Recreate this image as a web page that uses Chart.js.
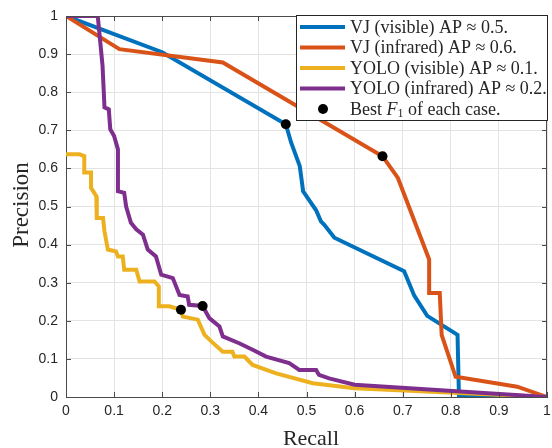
<!DOCTYPE html>
<html>
<head>
<meta charset="utf-8">
<script src="https://cdn.jsdelivr.net/npm/chart.js@4"></script>
<style>
  html, body { margin: 0; padding: 0; background: #fff; }
  #pr { display: block; }
</style>
</head>
<body>
<canvas id="pr" width="552" height="448"></canvas>
<script>
// values
const vjVisRecall = [0, 0.2, 0.457, 0.468, 0.486, 0.493, 0.52, 0.53, 0.537, 0.558, 0.703, 0.724, 0.751, 0.814, 0.817, 1];
const vjVisPrecision = [1, 0.905, 0.716, 0.668, 0.606, 0.54, 0.49, 0.461, 0.452, 0.418, 0.33, 0.266, 0.213, 0.163, 0, 0];

const vjIrRecall = [0, 0.111, 0.326, 0.658, 0.69, 0.755, 0.755, 0.777, 0.781, 0.81, 0.938, 1];
const vjIrPrecision = [1, 0.913, 0.878, 0.632, 0.575, 0.361, 0.273, 0.273, 0.163, 0.053, 0.027, 0];

const yoloVisRecall = [0, 0.028, 0.038, 0.038, 0.052, 0.052, 0.063, 0.064, 0.077, 0.08, 0.087, 0.104, 0.108, 0.118, 0.121, 0.146, 0.153, 0.184, 0.193, 0.193, 0.215, 0.239, 0.243, 0.274, 0.288, 0.302, 0.326, 0.346, 0.35, 0.371, 0.388, 0.437, 0.513, 0.6, 1];
const yoloVisPrecision = [0.637, 0.637, 0.632, 0.589, 0.589, 0.549, 0.527, 0.47, 0.47, 0.435, 0.387, 0.382, 0.369, 0.369, 0.334, 0.334, 0.303, 0.303, 0.29, 0.238, 0.238, 0.229, 0.211, 0.203, 0.163, 0.146, 0.119, 0.119, 0.106, 0.106, 0.084, 0.062, 0.036, 0.023, 0];

const yoloIrRecall = [0, 0.066, 0.076, 0.08, 0.089, 0.092, 0.1, 0.108, 0.108, 0.121, 0.125, 0.135, 0.146, 0.16, 0.17, 0.187, 0.198, 0.222, 0.236, 0.253, 0.256, 0.284, 0.298, 0.319, 0.326, 0.36, 0.388, 0.416, 0.464, 0.485, 0.52, 0.526, 0.547, 0.6, 1];
const yoloIrPrecision = [1, 1, 0.869, 0.76, 0.755, 0.703, 0.685, 0.65, 0.54, 0.536, 0.5, 0.457, 0.44, 0.426, 0.387, 0.369, 0.321, 0.312, 0.268, 0.264, 0.242, 0.239, 0.207, 0.185, 0.159, 0.141, 0.124, 0.106, 0.089, 0.071, 0.071, 0.058, 0.049, 0.032, 0];

// best F1 operating point for each case (VJ vis, VJ ir, YOLO vis, YOLO ir)
const bestF1Recall = [0.457, 0.658, 0.239, 0.284];
const bestF1Precision = [0.716, 0.632, 0.229, 0.239];

const seriesLabels = [
  'VJ (visible) AP \u2248 0.5.',
  'VJ (infrared) AP \u2248 0.6.',
  'YOLO (visible) AP \u2248 0.1.',
  'YOLO (infrared) AP \u2248 0.2.'
];
const tickValues = [0, 0.1, 0.2, 0.3, 0.4, 0.5, 0.6, 0.7, 0.8, 0.9, 1];
const tickLabels = ['0', '0.1', '0.2', '0.3', '0.4', '0.5', '0.6', '0.7', '0.8', '0.9', '1'];

const colors = ['#0072BD', '#D95319', '#EDB120', '#7E2F8E'];
const ink = '#262626';

function toPoints(xs, ys) {
  return xs.map((x, i) => ({ x: x, y: ys[i] }));
}

function curve(label, xs, ys, color, order) {
  return {
    label: label,
    data: toPoints(xs, ys),
    borderColor: color,
    backgroundColor: color,
    borderWidth: 4,
    pointRadius: 0,
    tension: 0,
    fill: false,
    order: order
  };
}

// white background, inward ticks, box, axis titles and the legend
const matlabLook = {
  id: 'matlabLook',
  beforeDraw(chart) {
    const c = chart.ctx;
    c.save();
    c.fillStyle = '#fff';
    c.fillRect(0, 0, chart.width, chart.height);
    c.restore();
  },
  afterDraw(chart) {
    const c = chart.ctx;
    const a = chart.chartArea;
    const xs = chart.scales.x, ys = chart.scales.y;
    c.save();

    // box + inward ticks
    c.strokeStyle = '#4a4a4a';
    c.lineWidth = 1;
    c.beginPath();
    c.moveTo(a.left, a.top + 0.5); c.lineTo(a.right, a.top + 0.5);
    c.moveTo(a.right - 0.5, a.top); c.lineTo(a.right - 0.5, a.bottom);
    tickValues.forEach(v => {
      const px = Math.round(xs.getPixelForValue(v)) + 0.5;
      c.moveTo(px, a.bottom); c.lineTo(px, a.bottom - 5);
      c.moveTo(px, a.top); c.lineTo(px, a.top + 5);
      const py = Math.round(ys.getPixelForValue(v)) + 0.5;
      c.moveTo(a.left, py); c.lineTo(a.left + 5, py);
      c.moveTo(a.right, py); c.lineTo(a.right - 5, py);
    });
    c.stroke();

    // axis titles
    c.fillStyle = ink;
    c.font = '22px "Liberation Serif", "Times New Roman", serif';
    c.textAlign = 'center';
    c.textBaseline = 'alphabetic';
    c.fillText('Recall', 311, 445);
    c.save();
    c.translate(28, 205);
    c.rotate(-Math.PI / 2);
    c.font = '23px "Liberation Serif", "Times New Roman", serif';
    c.fillText('Precision', 0, 0);
    c.restore();

    // legend
    const bx = 296, by = 15, bw = a.right - 296 + 1, bh = 106;
    c.fillStyle = '#fff';
    c.fillRect(bx, by, bw, bh);
    c.strokeStyle = ink;
    c.lineWidth = 1;
    c.strokeRect(bx + 0.5, by + 0.5, bw - 1, bh - 1);

    const rowY = [27, 47.5, 68, 88.5, 109];
    const serif = '"Liberation Serif", "Times New Roman", serif';
    c.textAlign = 'left';
    c.textBaseline = 'middle';
    seriesLabels.forEach((txt, i) => {
      c.strokeStyle = colors[i];
      c.lineWidth = 4;
      c.beginPath();
      c.moveTo(300, rowY[i]); c.lineTo(345, rowY[i]);
      c.stroke();
      c.fillStyle = ink;
      c.font = '18px ' + serif;
      c.fillText(txt, 350, rowY[i] + 1);
    });
    // marker entry
    const y5 = rowY[4];
    c.fillStyle = '#000';
    c.beginPath();
    c.arc(323, y5, 5, 0, Math.PI * 2);
    c.fill();
    c.fillStyle = ink;
    let tx = 350;
    c.font = '18px ' + serif;
    c.fillText('Best ', tx, y5 + 1);
    tx += c.measureText('Best ').width;
    c.font = 'italic 18px ' + serif;
    c.fillText('F', tx, y5 + 1);
    tx += c.measureText('F').width;
    c.font = '12px ' + serif;
    c.fillText('1', tx, y5 + 5);
    tx += c.measureText('1').width;
    c.font = '18px ' + serif;
    c.fillText(' of each case.', tx, y5 + 1);

    c.restore();
  }
};

const ctx = document.getElementById('pr').getContext('2d');
new Chart(ctx, {
  type: 'line',
  data: {
    datasets: [
      curve(seriesLabels[0], vjVisRecall, vjVisPrecision, colors[0], 4),
      curve(seriesLabels[1], vjIrRecall, vjIrPrecision, colors[1], 3),
      curve(seriesLabels[2], yoloVisRecall, yoloVisPrecision, colors[2], 2),
      curve(seriesLabels[3], yoloIrRecall, yoloIrPrecision, colors[3], 1),
      {
        label: 'Best F1 of each case.',
        data: toPoints(bestF1Recall, bestF1Precision),
        showLine: false,
        pointRadius: 5,
        pointBackgroundColor: '#000',
        pointBorderWidth: 0,
        order: 0
      }
    ]
  },
  options: {
    responsive: false,
    animation: false,
    devicePixelRatio: 1,
    layout: { padding: { left: 0, right: 1, top: 16, bottom: 0 } },
    plugins: {
      legend: { display: false },
      tooltip: { enabled: false }
    },
    scales: {
      x: {
        type: 'linear',
        min: 0,
        max: 1,
        afterBuildTicks: s => { s.ticks = tickValues.map(v => ({ value: v })); },
        afterFit: s => { s.height = 51; s.paddingLeft = 0; s.paddingRight = 0; },
        ticks: {
          callback: (v, i) => tickLabels[i],
          color: ink,
          font: { family: '"Liberation Sans", Arial, sans-serif', size: 14 },
          padding: 6,
          maxRotation: 0
        },
        grid: { color: '#e3e3e3', drawTicks: false },
        border: { display: true, color: '#4a4a4a', width: 1 }
      },
      y: {
        type: 'linear',
        min: 0,
        max: 1,
        afterBuildTicks: s => { s.ticks = tickValues.map(v => ({ value: v })); },
        afterFit: s => { s.width = 66; s.paddingTop = 0; s.paddingBottom = 0; },
        ticks: {
          callback: (v, i) => tickLabels[i],
          color: ink,
          font: { family: '"Liberation Sans", Arial, sans-serif', size: 14 },
          padding: 8
        },
        grid: { color: '#e3e3e3', drawTicks: false },
        border: { display: true, color: '#4a4a4a', width: 1 }
      }
    }
  },
  plugins: [matlabLook]
});
</script>
</body>
</html>
